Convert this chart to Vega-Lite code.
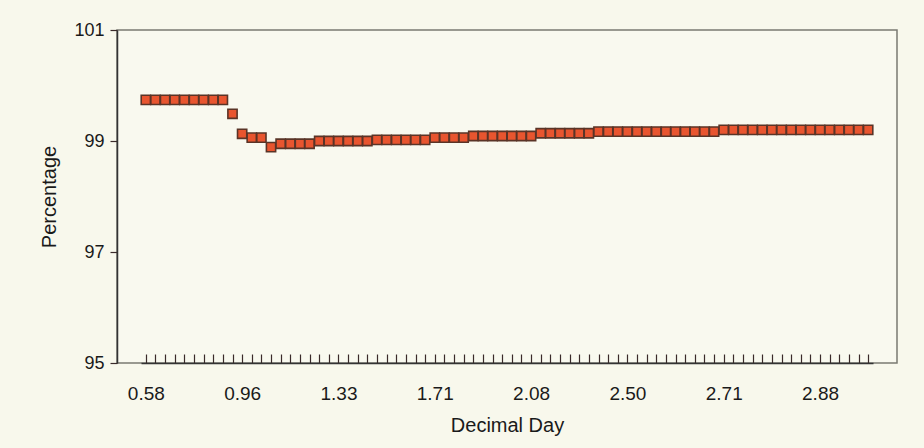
{
  "$schema": "https://vega.github.io/schema/vega-lite/v6.json",
  "autosize": "none",
  "width": 780,
  "height": 333,
  "padding": {"left": 117, "top": 30, "right": 27, "bottom": 85},
  "background": "#f8f8ec",
  "config": {
    "view": {"stroke": "#7a7a72", "strokeWidth": 1.5, "fill": "#f9f9ef"},
    "font": "Liberation Sans",
    "axis": {"labelFont": "Liberation Sans", "titleFont": "Liberation Sans", "labelColor": "#1a1a1a", "titleColor": "#1a1a1a", "titleFontWeight": "normal", "grid": false, "domainColor": "#333333", "tickColor": "#3a2a2a", "domainWidth": 1.5, "tickWidth": 1.2}
  },
  "data": {"values": [
    {"day": 0.583, "pct": 99.74}, {"day": 0.621, "pct": 99.74}, {"day": 0.659, "pct": 99.74}, {"day": 0.697, "pct": 99.74},
    {"day": 0.735, "pct": 99.74}, {"day": 0.772, "pct": 99.74}, {"day": 0.810, "pct": 99.74}, {"day": 0.848, "pct": 99.74},
    {"day": 0.886, "pct": 99.74}, {"day": 0.924, "pct": 99.49}, {"day": 0.962, "pct": 99.13}, {"day": 0.999, "pct": 99.06},
    {"day": 1.037, "pct": 99.06}, {"day": 1.074, "pct": 98.89}, {"day": 1.111, "pct": 98.95}, {"day": 1.148, "pct": 98.95},
    {"day": 1.185, "pct": 98.95}, {"day": 1.222, "pct": 98.95}, {"day": 1.259, "pct": 99.0}, {"day": 1.296, "pct": 99.0},
    {"day": 1.333, "pct": 99.0}, {"day": 1.371, "pct": 99.0}, {"day": 1.409, "pct": 99.0}, {"day": 1.447, "pct": 99.0},
    {"day": 1.485, "pct": 99.02}, {"day": 1.523, "pct": 99.02}, {"day": 1.561, "pct": 99.02}, {"day": 1.598, "pct": 99.02},
    {"day": 1.636, "pct": 99.02}, {"day": 1.673, "pct": 99.02}, {"day": 1.71, "pct": 99.06}, {"day": 1.747, "pct": 99.06},
    {"day": 1.784, "pct": 99.06}, {"day": 1.821, "pct": 99.06}, {"day": 1.858, "pct": 99.09}, {"day": 1.895, "pct": 99.09},
    {"day": 1.932, "pct": 99.09}, {"day": 1.969, "pct": 99.09}, {"day": 2.006, "pct": 99.09}, {"day": 2.043, "pct": 99.09},
    {"day": 2.08, "pct": 99.09}, {"day": 2.122, "pct": 99.14}, {"day": 2.164, "pct": 99.14}, {"day": 2.206, "pct": 99.14},
    {"day": 2.248, "pct": 99.14}, {"day": 2.29, "pct": 99.14}, {"day": 2.332, "pct": 99.14}, {"day": 2.374, "pct": 99.17},
    {"day": 2.416, "pct": 99.17}, {"day": 2.458, "pct": 99.17}, {"day": 2.5, "pct": 99.17}, {"day": 2.521, "pct": 99.17},
    {"day": 2.542, "pct": 99.17}, {"day": 2.563, "pct": 99.17}, {"day": 2.584, "pct": 99.17}, {"day": 2.605, "pct": 99.17},
    {"day": 2.626, "pct": 99.17}, {"day": 2.647, "pct": 99.17}, {"day": 2.668, "pct": 99.17}, {"day": 2.689, "pct": 99.17},
    {"day": 2.71, "pct": 99.2}, {"day": 2.727, "pct": 99.2}, {"day": 2.744, "pct": 99.2}, {"day": 2.761, "pct": 99.2},
    {"day": 2.778, "pct": 99.2}, {"day": 2.795, "pct": 99.2}, {"day": 2.812, "pct": 99.2}, {"day": 2.829, "pct": 99.2},
    {"day": 2.846, "pct": 99.2}, {"day": 2.863, "pct": 99.2}, {"day": 2.88, "pct": 99.2}, {"day": 2.897, "pct": 99.2},
    {"day": 2.914, "pct": 99.2}, {"day": 2.931, "pct": 99.2}, {"day": 2.948, "pct": 99.2}, {"day": 2.965, "pct": 99.2}
  ]},
  "mark": {"type": "point", "shape": "square", "filled": true, "size": 85, "fill": "#e8552f", "stroke": "#5a3427", "strokeWidth": 1.6, "opacity": 1},
  "encoding": {
    "x": {
      "field": "day", "type": "ordinal",
      "scale": {"type": "point", "range": [24, 756]},
      "axis": {
        "title": "Decimal Day", "titleFontSize": 20, "titlePadding": 12,
        "labelFontSize": 19, "labelAngle": 0, "labelOverlap": false, "labelPadding": 30,
        "tickSize": -9,
        "labelExpr": "indexof([0.583,0.962,1.333,1.71,2.08,2.5,2.71,2.88], datum.value) >= 0 ? format(datum.value, '.2f') : ''"
      }
    },
    "y": {
      "field": "pct", "type": "quantitative",
      "scale": {"domain": [95, 101], "nice": false, "zero": false},
      "axis": {"title": "Percentage", "titleFontSize": 20, "titlePadding": 14, "values": [95, 97, 99, 101], "labelFontSize": 18, "tickSize": 7, "labelPadding": 6}
    }
  }
}
